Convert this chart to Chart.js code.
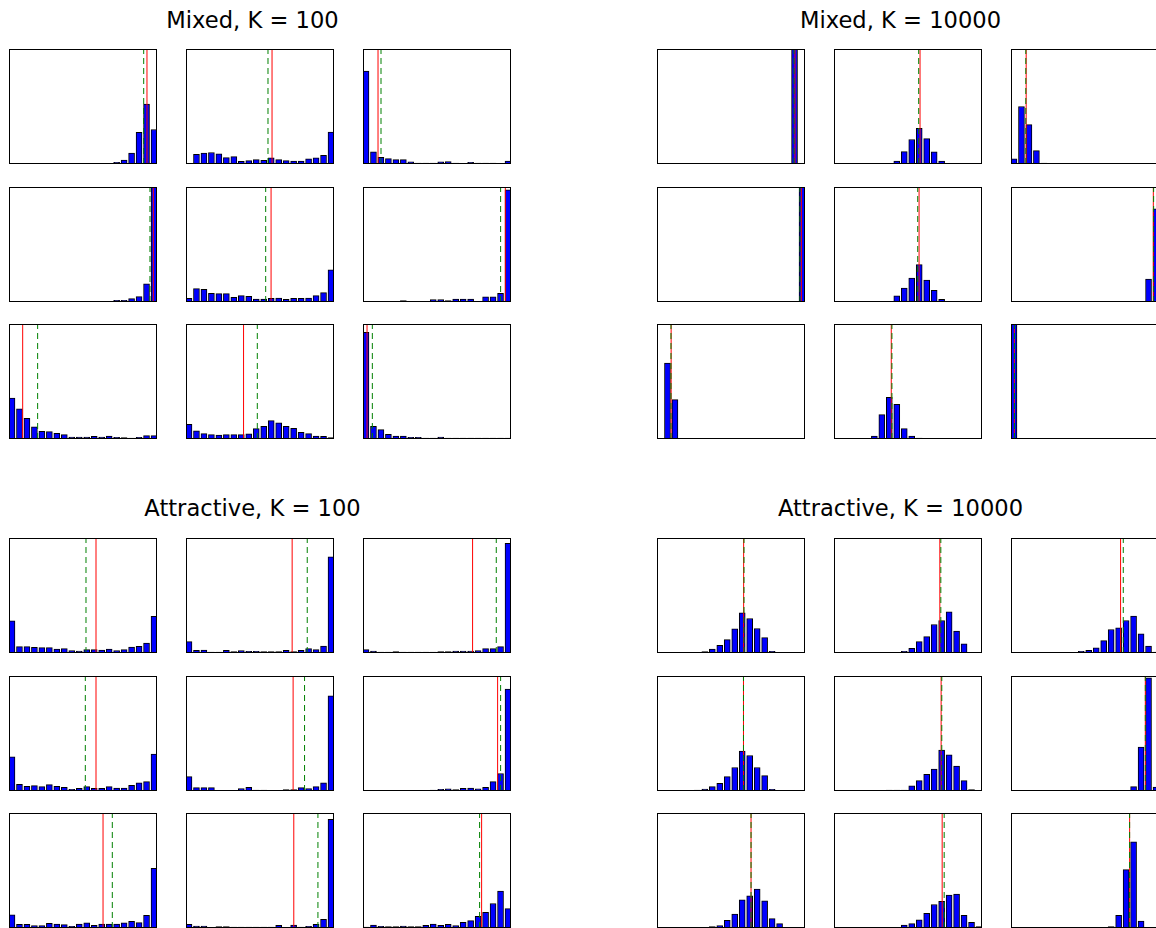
<!DOCTYPE html>
<html>
<head>
<meta charset="utf-8">
<script src="https://cdn.jsdelivr.net/npm/chart.js@4.4.1/dist/chart.umd.min.js"></script>
<style>
  html, body { margin: 0; padding: 0; background: #fff; overflow: hidden; }
  #page { position: relative; width: 1156px; height: 928px; overflow: hidden; }
  .title { position: absolute; width: 400px; margin-left: -200px; text-align: center;
           font: 22.6px "DejaVu Sans", sans-serif; line-height: 22px; color: #000; white-space: nowrap; }
  canvas { position: absolute; }
</style>
</head>
<body>
<div id="page"></div>
<script>
"use strict";

// 20 histogram bins per panel, x runs over the bin index.
const BINS = [0, 1, 2, 3, 4, 5, 6, 7, 8, 9, 10, 11, 12, 13, 14, 15, 16, 17, 18, 19];

/* ---- Mixed, K = 100 (panels row by row) ---- */
const MIXED_100_BARS = [
  [0, 0, 0, 0, 0, 0, 0, 0, 0, 0, 0, 0, 0.003, 0.006, 0.015, 0.035, 0.094, 0.275, 0.52, 0.30],
  [0.006, 0.085, 0.094, 0.1, 0.088, 0.056, 0.064, 0.023, 0.03, 0.038, 0.032, 0.053, 0.038, 0.03, 0.026, 0.026, 0.044, 0.053, 0.076, 0.278],
  [0.807, 0.105, 0.058, 0.047, 0.038, 0.038, 0.018, 0.009, 0.009, 0.009, 0.018, 0.02, 0.009, 0.006, 0.015, 0.009, 0.009, 0.009, 0.006, 0.026],
  [0, 0, 0, 0, 0, 0, 0, 0, 0.005, 0, 0, 0, 0.006, 0.006, 0.015, 0.015, 0.03, 0.047, 0.158, 1.0],
  [0.032, 0.117, 0.111, 0.076, 0.073, 0.073, 0.041, 0.056, 0.05, 0.026, 0.026, 0.032, 0.035, 0.023, 0.032, 0.032, 0.035, 0.056, 0.082, 0.28],
  [0, 0.006, 0.006, 0, 0, 0.012, 0.006, 0, 0, 0.02, 0.02, 0.012, 0.026, 0.026, 0.026, 0.006, 0.044, 0.044, 0.076, 0.975],
  [0.355, 0.262, 0.18, 0.105, 0.067, 0.064, 0.05, 0.038, 0.017, 0.017, 0.017, 0.023, 0.017, 0.026, 0.015, 0.012, 0.009, 0.015, 0.029, 0.029],
  [0.128, 0.07, 0.047, 0.038, 0.035, 0.038, 0.038, 0.038, 0.044, 0.09, 0.11, 0.16, 0.14, 0.11, 0.093, 0.058, 0.047, 0.026, 0.023, 0.012],
  [0.927, 0.11, 0.081, 0.041, 0.026, 0.026, 0.015, 0.015, 0.009, 0.009, 0.017, 0.009, 0.009, 0.009, 0.009, 0.009, 0.009, 0.009, 0.009, 0.009],
];
const MIXED_100_RED = [18.06, 11.11, 1.61, 18.91, 10.98, 18.64, 1.43, 7.30, 0.14];
const MIXED_100_GREEN = [17.62, 10.57, 2.01, 18.46, 10.26, 18.01, 3.43, 9.14, 0.85];

/* ---- Mixed, K = 10000 ---- */
const MIXED_10000_BARS = [
  [0, 0, 0, 0, 0, 0, 0, 0, 0, 0, 0, 0, 0, 0, 0, 0, 0, 0, 1.0, 0],
  [0, 0, 0, 0, 0, 0, 0, 0, 0.026, 0.108, 0.213, 0.31, 0.22, 0.105, 0.026, 0, 0, 0, 0, 0],
  [0.044, 0.5, 0.342, 0.117, 0.009, 0, 0, 0, 0, 0, 0, 0, 0, 0, 0, 0, 0, 0, 0, 0],
  [0, 0, 0, 0, 0, 0, 0, 0, 0, 0, 0, 0, 0, 0, 0, 0, 0, 0, 0, 1.0],
  [0, 0, 0, 0, 0, 0, 0, 0, 0.053, 0.12, 0.208, 0.325, 0.19, 0.102, 0.023, 0, 0, 0, 0, 0],
  [0, 0, 0, 0, 0, 0, 0, 0, 0, 0, 0, 0, 0, 0, 0, 0, 0, 0, 0.2, 0.81],
  [0, 0.66, 0.343, 0, 0, 0, 0, 0, 0, 0, 0, 0, 0, 0, 0, 0, 0, 0, 0, 0],
  [0, 0, 0, 0, 0, 0.026, 0.212, 0.363, 0.302, 0.09, 0.026, 0.009, 0, 0, 0, 0, 0, 0, 0, 0],
  [1.0, 0.006, 0, 0, 0, 0, 0, 0, 0, 0, 0, 0, 0, 0, 0, 0, 0, 0, 0, 0],
];
const MIXED_10000_RED = [18.06, 11.11, 1.63, 18.91, 10.98, 18.64, 1.49, 7.26, 0.05];
const MIXED_10000_GREEN = [17.93, 10.93, 1.58, 18.73, 10.80, 18.68, 1.47, 7.35, 0.07];

/* ---- Attractive, K = 100 ---- */
const ATTR_100_BARS = [
  [0.28, 0.055, 0.055, 0.05, 0.047, 0.047, 0.035, 0.038, 0.02, 0.017, 0.029, 0.029, 0.026, 0.035, 0.02, 0.029, 0.052, 0.058, 0.087, 0.318],
  [0.099, 0.023, 0.026, 0.009, 0.009, 0.023, 0.012, 0.02, 0.015, 0.015, 0.012, 0.012, 0.012, 0.023, 0.012, 0.023, 0.038, 0.029, 0.061, 0.837],
  [0.029, 0.017, 0.009, 0.009, 0.012, 0.009, 0.009, 0.009, 0.009, 0.009, 0.012, 0.012, 0.017, 0.017, 0.017, 0.02, 0.038, 0.038, 0.055, 0.953],
  [0.297, 0.058, 0.041, 0.047, 0.038, 0.055, 0.041, 0.032, 0.015, 0.023, 0.038, 0.023, 0.023, 0.038, 0.026, 0.026, 0.05, 0.07, 0.082, 0.32],
  [0.125, 0.029, 0.029, 0.029, 0.006, 0.006, 0.006, 0.02, 0.032, 0.009, 0.009, 0.006, 0.006, 0.012, 0.012, 0.029, 0.02, 0.038, 0.07, 0.828],
  [0, 0, 0, 0, 0, 0.003, 0.003, 0.006, 0.006, 0.009, 0.015, 0.018, 0.012, 0.023, 0.026, 0.018, 0.032, 0.082, 0.152, 0.886],
  [0.114, 0.032, 0.032, 0.02, 0.02, 0.041, 0.035, 0.029, 0.015, 0.035, 0.044, 0.023, 0.035, 0.035, 0.035, 0.044, 0.058, 0.047, 0.111, 0.519],
  [0.032, 0.017, 0.017, 0.003, 0.012, 0.012, 0.009, 0.009, 0.009, 0.009, 0.009, 0.009, 0.023, 0.006, 0.026, 0.009, 0.015, 0.032, 0.076, 0.945],
  [0.009, 0.026, 0.015, 0.012, 0.012, 0.017, 0.012, 0.012, 0.023, 0.035, 0.023, 0.032, 0.02, 0.05, 0.064, 0.102, 0.137, 0.213, 0.321, 0.169],
];
const ATTR_100_RED = [11.24, 13.80, 14.26, 11.24, 13.93, 17.61, 12.18, 14.02, 15.47];
const ATTR_100_GREEN = [9.90, 15.82, 17.43, 9.81, 15.46, 18.01, 13.42, 17.25, 15.20];

/* ---- Attractive, K = 10000 ---- */
const ATTR_10000_BARS = [
  [0, 0, 0, 0, 0.006, 0.006, 0.012, 0.035, 0.067, 0.117, 0.21, 0.35, 0.3, 0.213, 0.134, 0.015, 0.006, 0, 0, 0],
  [0, 0, 0, 0, 0, 0, 0, 0, 0.006, 0.015, 0.041, 0.099, 0.143, 0.248, 0.283, 0.359, 0.19, 0.079, 0, 0],
  [0, 0, 0, 0, 0, 0, 0, 0, 0, 0.015, 0.023, 0.044, 0.108, 0.204, 0.219, 0.283, 0.321, 0.166, 0.061, 0.009],
  [0, 0, 0, 0, 0.006, 0.009, 0.017, 0.038, 0.067, 0.125, 0.204, 0.347, 0.309, 0.204, 0.134, 0.015, 0.006, 0, 0, 0],
  [0, 0, 0, 0, 0, 0, 0, 0.009, 0.009, 0.009, 0.044, 0.09, 0.146, 0.19, 0.356, 0.315, 0.216, 0.09, 0.012, 0],
  [0, 0, 0, 0, 0, 0, 0, 0, 0, 0, 0, 0, 0, 0, 0, 0, 0.038, 0.382, 0.985, 0.035],
  [0, 0, 0, 0, 0, 0, 0.006, 0.012, 0.02, 0.067, 0.12, 0.245, 0.28, 0.338, 0.236, 0.082, 0.038, 0, 0, 0],
  [0, 0, 0, 0, 0, 0, 0, 0, 0.003, 0.026, 0.038, 0.07, 0.128, 0.204, 0.233, 0.286, 0.294, 0.111, 0.05, 0.012],
  [0, 0, 0, 0, 0, 0, 0, 0, 0, 0, 0, 0, 0, 0.012, 0.111, 0.507, 0.749, 0.061, 0, 0],
];
const ATTR_10000_RED = [11.19, 13.76, 14.26, 11.17, 13.93, 17.57, 12.18, 14.07, 15.47];
const ATTR_10000_GREEN = [11.24, 13.89, 14.62, 11.17, 14.02, 17.57, 12.18, 14.34, 15.47];

/* ---- layout ---- */
const PANEL_W = 148, PANEL_H = 115;
const COL_STEP = 177, ROW_STEP = 137.5;

const GROUPS = [
  { title: "Mixed, K = 100", bars: MIXED_100_BARS, red: MIXED_100_RED, green: MIXED_100_GREEN,
    left: 9, top: 49, titleX: 252.5, titleY: 20 },
  { title: "Mixed, K = 10000", bars: MIXED_10000_BARS, red: MIXED_10000_RED, green: MIXED_10000_GREEN,
    left: 657, top: 49, titleX: 900.5, titleY: 20 },
  { title: "Attractive, K = 100", bars: ATTR_100_BARS, red: ATTR_100_RED, green: ATTR_100_GREEN,
    left: 9, top: 538, titleX: 252.5, titleY: 508 },
  { title: "Attractive, K = 10000", bars: ATTR_10000_BARS, red: ATTR_10000_RED, green: ATTR_10000_GREEN,
    left: 657, top: 538, titleX: 900.5, titleY: 508 },
];

// Black box round each axes (matplotlib spines on all four sides).
const framePlugin = {
  id: "frame",
  afterDraw(chart) {
    const { ctx, chartArea: a } = chart;
    ctx.save();
    ctx.strokeStyle = "#000";
    ctx.lineWidth = 1;
    ctx.strokeRect(a.left + 0.5, a.top + 0.5, a.width - 1, a.height - 1);
    ctx.restore();
  },
};

const vline = (x, color, dash, order) => ({
  type: "line",
  data: [{ x, y: 0 }, { x, y: 1 }],
  borderColor: color,
  borderWidth: 1,
  borderDash: dash,
  pointRadius: 0,
  order,
});

function panel(page, left, top, values, red, green) {
  const canvas = document.createElement("canvas");
  canvas.width = PANEL_W;
  canvas.height = PANEL_H;
  canvas.style.left = `${left}px`;
  canvas.style.top = `${top}px`;
  page.appendChild(canvas);

  new Chart(canvas, {
    type: "bar",
    data: {
      datasets: [
        {
          type: "bar",
          data: BINS.map((b, i) => ({ x: b, y: values[i] })),
          backgroundColor: "#0000ff",
          borderColor: "#000",
          borderWidth: 1,
          borderSkipped: false,
          barThickness: (PANEL_W * 0.8) / 19.8,
          order: 3,
        },
        vline(red, "#ff0000", [], 2),
        vline(green, "#008000", [6, 4], 1),
      ],
    },
    options: {
      responsive: false,
      animation: false,
      events: [],
      layout: { padding: 0 },
      plugins: { legend: { display: false }, tooltip: { enabled: false } },
      scales: {
        x: { type: "linear", min: -0.4, max: 19.4, offset: false, display: false },
        y: { min: 0, max: 1, display: false },
      },
    },
    plugins: [framePlugin],
  });
}

const page = document.getElementById("page");
for (const g of GROUPS) {
  const t = document.createElement("div");
  t.className = "title";
  t.textContent = g.title;
  t.style.left = `${g.titleX}px`;
  t.style.top = `${g.titleY - 11}px`;
  page.appendChild(t);

  g.bars.forEach((values, k) => {
    const row = Math.floor(k / 3), col = k % 3;
    panel(page, g.left + col * COL_STEP, Math.round(g.top + row * ROW_STEP), values, g.red[k], g.green[k]);
  });
}
</script>
</body>
</html>
